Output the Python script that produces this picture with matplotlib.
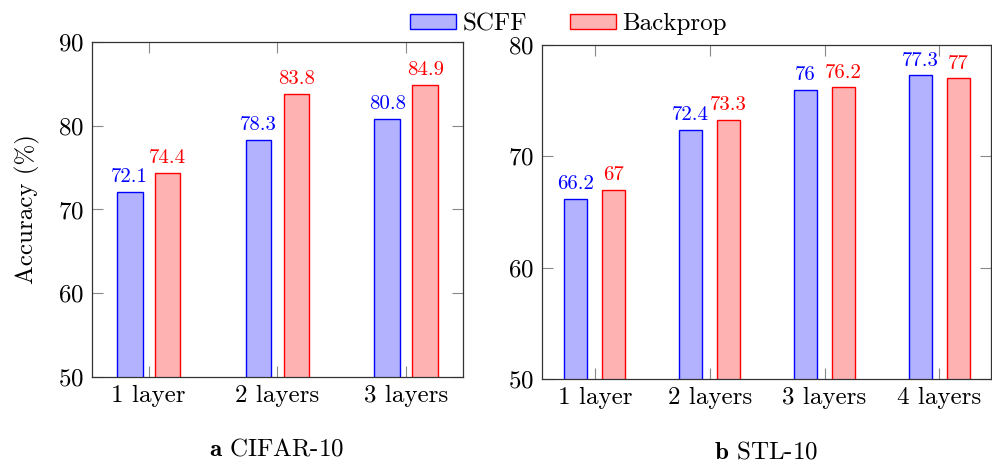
import matplotlib
matplotlib.use("Agg")
import matplotlib.pyplot as plt
import numpy as np

# accuracy results (%)
cifar_layers = ["1 layer", "2 layers", "3 layers"]
cifar_scff = [72.1, 78.3, 80.8]
cifar_backprop = [74.4, 83.8, 84.9]

stl_layers = ["1 layer", "2 layers", "3 layers", "4 layers"]
stl_scff = [66.2, 72.4, 76, 77.3]
stl_backprop = [67, 73.3, 76.2, 77]

plt.rcParams["font.family"] = ["cmr10"]
plt.rcParams["mathtext.fontset"] = "cm"
plt.rcParams["axes.formatter.use_mathtext"] = True

BLUE_FILL = "#b2b2ff"
RED_FILL = "#ffb2b2"


def draw_panel(ax, cats, scff, bp, ylim, yticks, offset, xlim):
    x = np.arange(len(cats))
    width = 0.2
    b1 = ax.bar(x - offset, scff, width, color=BLUE_FILL,
                edgecolor="blue", linewidth=1.0, label="SCFF")
    b2 = ax.bar(x + offset, bp, width, color=RED_FILL,
                edgecolor="red", linewidth=1.0, label="Backprop")
    for bars, vals, col in ((b1, scff, "blue"), (b2, bp, "red")):
        for bar, v in zip(bars, vals):
            ax.annotate(f"{v:g}", (bar.get_x() + bar.get_width() / 2, v),
                        xytext=(0, 4), textcoords="offset points",
                        ha="center", va="bottom", color=col, fontsize=15)
    ax.set_ylim(*ylim)
    ax.set_yticks(yticks)
    ax.set_xlim(*xlim)
    ax.set_xticks(x)
    ax.set_xticklabels(cats)
    ax.tick_params(axis="both", direction="in", length=8, width=0.8,
                   color="#888888", labelsize=18, top=True, right=True, pad=6)
    for s in ax.spines.values():
        s.set_linewidth(0.9)
        s.set_color("#333333")
    return b1, b2


fig = plt.figure(figsize=(9.92, 4.66), dpi=100)
ax1 = fig.add_axes([0.0927, 0.191, 0.374, 0.719])
ax2 = fig.add_axes([0.5464, 0.1867, 0.4526, 0.7167])

h = draw_panel(ax1, cifar_layers, cifar_scff, cifar_backprop, (50, 90),
               [50, 60, 70, 80, 90], 0.147, (-0.44, 2.44))
draw_panel(ax2, stl_layers, stl_scff, stl_backprop, (50, 80),
           [50, 60, 70, 80], 0.166, (-0.46, 3.45))

ax1.set_ylabel("Accuracy (%)", fontsize=18)
ax1.yaxis.set_label_coords(-0.14, 0.5)

fig.text(0.279, 0.022, r"$\mathbf{a}$ CIFAR-10", ha="center",
         va="baseline", fontsize=18)
fig.text(0.772, 0.016, r"$\mathbf{b}$ STL-10", ha="center",
         va="baseline", fontsize=18)

fig.legend(h, ["SCFF", "Backprop"], loc="upper center",
           bbox_to_anchor=(0.573, 1.02), ncol=2, frameon=False, fontsize=18,
           handlelength=1.85, handleheight=0.6, handletextpad=0.25,
           columnspacing=1.7)

fig.savefig("out.png", dpi=100)
